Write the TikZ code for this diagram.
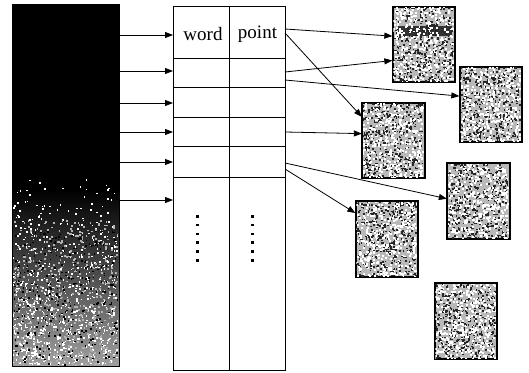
\documentclass[tikz,border=0pt]{standalone}
\usepackage{fontspec}
\setmainfont{Liberation Serif}
\usetikzlibrary{arrows.meta,calc}

% speckled grey texture inside a rectangle: #1 top-left corner, #2 width, #3 number of specks
\newcommand{\specklefill}[3]{%
  \foreach \k in {1,...,#3}{%
    \pgfmathsetmacro{\px}{rnd}\pgfmathsetmacro{\py}{rnd}%
    \fill[white] ($(#1)+(\px*#2,\py*75)$) rectangle ++(2,2);
    \pgfmathsetmacro{\qx}{rnd}\pgfmathsetmacro{\qy}{rnd}%
    \fill[black!85] ($(#1)+(\qx*#2,\qy*75)$) rectangle ++(1.6,1.6);
  }%
}

\begin{document}
\begin{tikzpicture}[x=1pt,y=-1pt,
  link/.style={line width=0.8pt,-{Triangle[length=8pt,width=6pt]}},
  rule/.style={line width=0.8pt},
  imgbox/.style={draw=black,line width=1.3pt,fill=gray!55,minimum width=62pt,minimum height=75pt,inner sep=0pt},
  cell/.style={font=\fontsize{19}{21}\selectfont,inner sep=0pt},
  dot/.style={fill=black}
]
\useasboundingbox (0,0) rectangle (529,372);
\pgfmathsetseed{4242}

% ---- left bar: solid black fading into grey grain ----
\node[fill=black,minimum width=107pt,minimum height=362pt,inner sep=0pt,anchor=north west] (bar) at (12,4) {};
\shade[top color=black,bottom color=gray!75] (12,190) rectangle (119,366);
\foreach \k in {1,...,800}{%
  \pgfmathsetmacro{\px}{12+rnd*105}%
  \pgfmathsetmacro{\py}{175+sqrt(rnd)*189}%
  \fill[white] (\px,\py) rectangle ++(1.6,1.6);
}
\foreach \k in {1,...,500}{%
  \pgfmathsetmacro{\px}{12+rnd*105}%
  \pgfmathsetmacro{\py}{220+rnd*144}%
  \fill[gray!60] (\px,\py) rectangle ++(1.8,1.8);
}
\foreach \k in {1,...,350}{%
  \pgfmathsetmacro{\px}{12+rnd*105}%
  \pgfmathsetmacro{\py}{230+rnd*134}%
  \fill[black] (\px,\py) rectangle ++(1.6,1.6);
}
\draw[line width=0.8pt] (bar.north west) rectangle (bar.south east);

% ---- table of words and pointers ----
\node[draw,rule,minimum width=112pt,minimum height=364pt,inner sep=0pt,anchor=north west] (tbl) at (173,6) {};
\draw[rule] (229,6) -- (229,370);
\foreach \y in {58,87,117,146,177}{\draw[rule] (173,\y) -- (285,\y);}
\node[cell] (word) at (203,34) {word};
\node[cell] (point) at (257.5,34) {point};
\foreach \i in {0,...,5}{%
  \fill[dot] (196,215+\i*8.8) rectangle ++(2.6,2.6);
  \fill[dot] (251,215+\i*8.8) rectangle ++(2.6,2.6);
}

% ---- arrows from the bar into the table rows ----
\foreach \y in {35,71,103,132,162,200}{%
  \coordinate (b\y) at (119,\y);
  \coordinate (t\y) at (173,\y);
  \draw[link] (b\y) -- (t\y);
}

% ---- picture blocks ----
\node[imgbox] (A) at (424,44.5) {};
\node[imgbox] (B) at (491,104.5) {};
\node[imgbox] (C) at (393.5,140.5) {};
\node[imgbox] (D) at (478.5,201) {};
\node[imgbox] (E) at (387,239) {};
\node[imgbox] (F) at (466,321) {};
\begin{scope}
  \clip (A.south west) rectangle (A.north east);
  \fill[black!80] (398,26) rectangle (452,36);
\end{scope}
\foreach \n in {A,B,C,D,E,F}{%
  \begin{scope}
    \clip ([shift={(1pt,1pt)}]\n.south west) rectangle ([shift={(-1pt,-1pt)}]\n.north east);
    \specklefill{\n.north west}{60}{420}
  \end{scope}
  \draw[line width=1.3pt] (\n.south west) rectangle (\n.north east);
}

% ---- pointers from the table to the blocks ----
\coordinate (p1) at (285,29);
\coordinate (p2) at (285,33);
\coordinate (p3) at (285,72);
\coordinate (p4) at (285,80);
\coordinate (p5) at (285,132);
\coordinate (p6) at (285,163);
\coordinate (p7) at (285,169);
\draw[link] (p1) -- ($(A.north west)!0.39!(A.south west)$);
\draw[link] (p2) -- ($(C.north west)!0.19!(C.south west)$);
\draw[link] (p3) -- ($(A.north west)!0.71!(A.south west)$);
\draw[link] (p4) -- ($(B.north west)!0.39!(B.south west)$);
\draw[link] (p5) -- ($(C.north west)!0.41!(C.south west)$);
\draw[link] (p6) -- ($(D.north west)!0.47!(D.south west)$);
\draw[link] (p7) -- ($(E.north west)!0.16!(E.south west)$);
\end{tikzpicture}
\end{document}
